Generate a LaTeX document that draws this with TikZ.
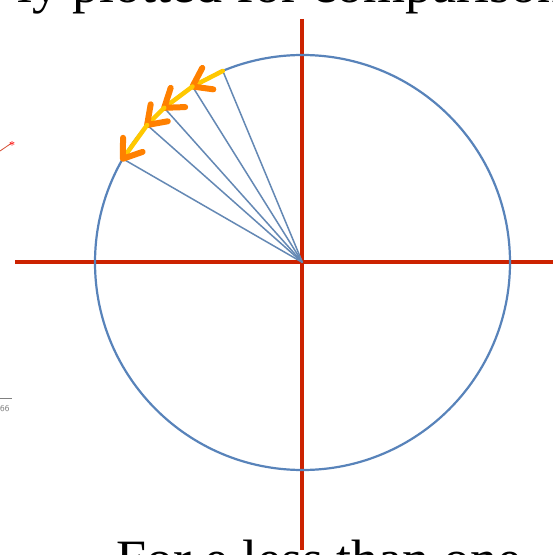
\documentclass[tikz,border=0pt]{standalone}
\usepackage{fontspec}
\setmainfont{Liberation Serif}
\usetikzlibrary{calc}
\definecolor{axisred}{RGB}{204,34,0}
\definecolor{orbitblue}{RGB}{88,131,186}
\definecolor{spokeblue}{RGB}{100,136,180}
\definecolor{shaftyellow}{RGB}{255,200,0}
\definecolor{headorange}{RGB}{255,128,0}
\tikzset{
  axis/.style={axisred, line width=4bp},
  orbit/.style={orbitblue, line width=2.2bp},
  spoke/.style={spokeblue, line width=1.5bp},
  shaft/.style={shaftyellow, line width=4.5bp, line cap=round},
  barb/.style={headorange, line width=6bp, line cap=round, line join=round},
  bigtext/.style={font=\fontsize{54bp}{58bp}\selectfont, inner sep=0pt, anchor=base west},
  tinytext/.style={font=\fontsize{9bp}{10bp}\selectfont\sffamily, text=gray, inner sep=0pt}
}
\begin{document}
\begin{tikzpicture}[x=1bp,y=-1bp]
\clip (0,0) rectangle (553,555);
\fill[white] (0,0) rectangle (553,555);
% coordinates
\coordinate (O) at (302.5,262.5);
\coordinate (P0) at (222.8,70.9);
\coordinate (P1) at (192.5,86.5);
\coordinate (P2) at (164.2,107.8);
\coordinate (P3) at (147.1,125.0);
\coordinate (P4) at (122.8,158.8);
\coordinate (HL) at (15,262);
\coordinate (HR) at (553,262);
\coordinate (VT) at (302,19);
\coordinate (VB) at (302,550);
% texts
\node[bigtext] (toptext) at (17,3) {ly plotted for comparison};
\node[bigtext] (bottext) at (116,577) {For e less than one};
% axes
\draw[axis] (HL) -- (HR);
\draw[axis] (VT) -- (VB);
% orbit
\draw[orbit] (O) circle[radius=207.5];
% spokes
\foreach \p in {P0,P1,P2,P3,P4}{
  \draw[spoke] (O) -- (\p);
}
% arrows
\foreach \a/\b in {P0/P1,P1/P2,P2/P3,P3/P4}{
  \draw[shaft] (\a) -- (\b);
  \draw[barb] ($(\b)!21bp!35:(\a)$) -- (\b) -- ($(\b)!21bp!-35:(\a)$);
}
% stray marks at left
\coordinate (S0) at (0,151);
\coordinate (S1) at (11,143.5);
\draw[axisred!80, line width=0.8bp] (S0) -- (S1);
\node[text=red, inner sep=0pt, font=\fontsize{12bp}{12bp}\selectfont] (star) at ($(S1)+(1,2)$) {*};
\coordinate (L0) at (0,398);
\coordinate (L1) at (12,398);
\draw[gray, line width=0.7bp] (L0) -- (L1);
\node[tinytext, anchor=west] (num) at (0,409) {66};
\end{tikzpicture}
\end{document}
